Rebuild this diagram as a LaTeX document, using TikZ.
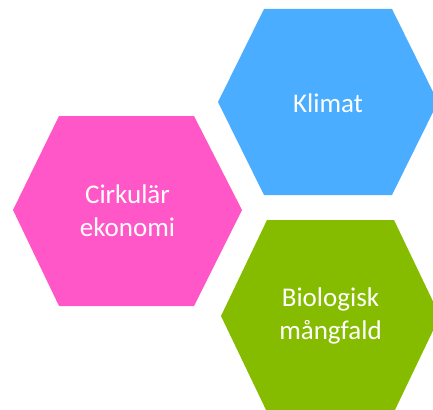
\documentclass[tikz,border=0pt]{standalone}
\usepackage{fontspec}
\setmainfont{Carlito}
\definecolor{hexpink}{RGB}{255,87,200}
\definecolor{hexblue}{RGB}{74,173,255}
\definecolor{hexgreen}{RGB}{134,188,0}
\tikzset{
	label/.style={text=white, align=center, font=\fontsize{27}{33}\selectfont}
}
\begin{document}
\begin{tikzpicture}[x=1pt, y=-1pt]
	\useasboundingbox (0,0) rectangle (433,409);
	\begin{scope}
	\clip (0,0) rectangle (433,409);

	\fill[hexpink] (13,210) -- (59,116) -- (194,116) -- (242,210) -- (194,306) -- (59,306) -- cycle;
	\fill[hexblue] (218,102) -- (264,9) -- (392,9) -- (438,102) -- (392,195) -- (264,195) -- cycle;
	\fill[hexgreen] (221,316) -- (267,220) -- (394,220) -- (440,316) -- (394,412) -- (267,412) -- cycle;
	\end{scope}

	\node[label] (klimat) at (328,103) {Klimat};
	\node[label] (cirk) at (127.5,211) {Cirkulär\\ekonomi};
	\node[label] (bio) at (330.5,316) {Biologisk\\mångfald};

\end{tikzpicture}
\end{document}
